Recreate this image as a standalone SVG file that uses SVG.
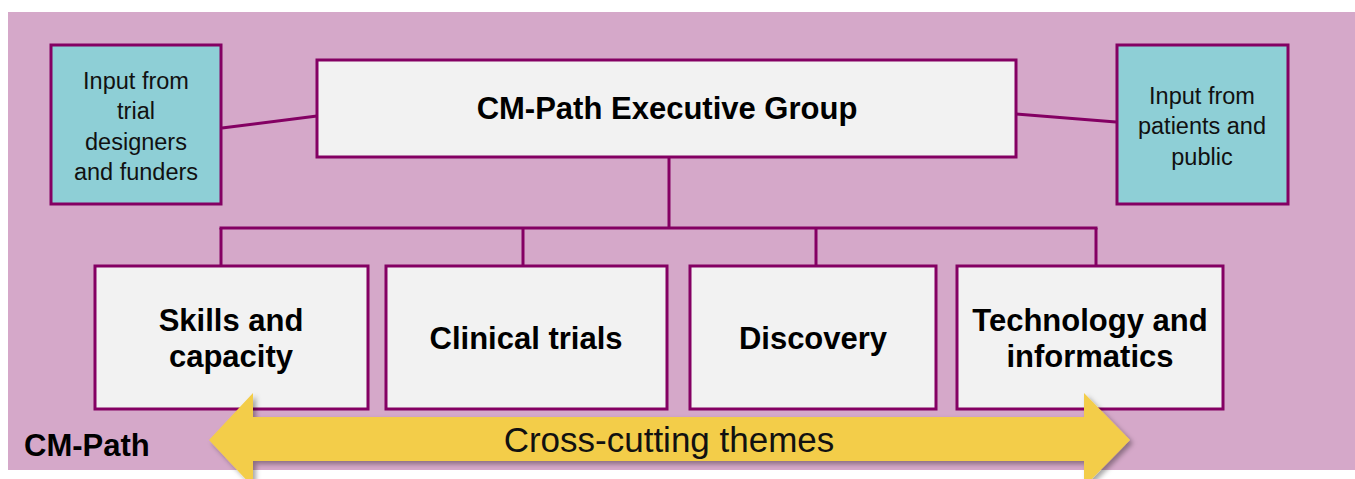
<svg xmlns="http://www.w3.org/2000/svg" width="1355" height="479" viewBox="0 0 1355 479">
<style>
.box{fill:#F2F2F2;stroke:#840063;stroke-width:3}
.inp{fill:#8ECFD6;stroke:#840063;stroke-width:3}
.con{stroke:#840063;stroke-width:3;fill:none}
.b{font-family:"Liberation Sans",Arial,sans-serif;font-weight:bold;font-size:31px;fill:#000;text-anchor:middle}
.r{font-family:"Liberation Sans",Arial,sans-serif;font-size:23.5px;fill:#111;text-anchor:middle}
</style>
<defs>
<filter id="sh" x="-5%" y="-20%" width="110%" height="150%">
<feDropShadow dx="3" dy="3" stdDeviation="2.5" flood-color="#000" flood-opacity="0.35"/>
</filter>
</defs>
<rect width="1355" height="479" fill="#fff"/>
<rect x="8" y="12" width="1347" height="458" fill="#D5A8C9"/>
<g id="connectors">
<line class="con" x1="222" y1="128" x2="317" y2="116"/>
<line class="con" x1="1016" y1="114" x2="1116" y2="122"/>
<line class="con" x1="669" y1="157" x2="669" y2="228"/>
<line class="con" x1="219.5" y1="228" x2="1097.5" y2="228"/>
<line class="con" x1="221" y1="228" x2="221" y2="266"/>
<line class="con" x1="523" y1="228" x2="523" y2="266"/>
<line class="con" x1="816" y1="228" x2="816" y2="266"/>
<line class="con" x1="1096" y1="228" x2="1096" y2="266"/>
</g>
<g id="input-trial">
<rect class="inp" x="51" y="45" width="170" height="159"/>
<text class="r" x="136" y="89">Input from</text>
<text class="r" x="136" y="119">trial</text>
<text class="r" x="136" y="150">designers</text>
<text class="r" x="136" y="180">and funders</text>
</g>
<g id="input-patients">
<rect class="inp" x="1117" y="45" width="171" height="159"/>
<text class="r" x="1202" y="104">Input from</text>
<text class="r" x="1202" y="134">patients and</text>
<text class="r" x="1202" y="165">public</text>
</g>
<g id="exec">
<rect class="box" x="317" y="60" width="699" height="97"/>
<text class="b" x="667" y="119">CM-Path Executive Group</text>
</g>
<g id="skills">
<rect class="box" x="95" y="266" width="273" height="143"/>
<text class="b" x="231" y="331">Skills and</text>
<text class="b" x="231" y="367">capacity</text>
</g>
<g id="clinical">
<rect class="box" x="386" y="266" width="281" height="143"/>
<text class="b" x="526" y="349">Clinical trials</text>
</g>
<g id="discovery">
<rect class="box" x="690" y="266" width="246" height="143"/>
<text class="b" x="813" y="349">Discovery</text>
</g>
<g id="technology">
<rect class="box" x="957" y="266" width="266" height="143"/>
<text class="b" x="1090" y="331">Technology and</text>
<text class="b" x="1090" y="367">informatics</text>
</g>
<g id="themes">
<polygon filter="url(#sh)" fill="#F3CD4A" points="209,440 253,393 253,417 1084,417 1084,393 1130,440 1084,487 1084,461 253,461 253,487"/>
<text x="669" y="452" font-family="'Liberation Sans',Arial,sans-serif" font-size="35" fill="#111" text-anchor="middle">Cross-cutting themes</text>
</g>
<text x="24" y="456" font-family="'Liberation Sans',Arial,sans-serif" font-weight="bold" font-size="31" fill="#000">CM-Path</text>
</svg>
